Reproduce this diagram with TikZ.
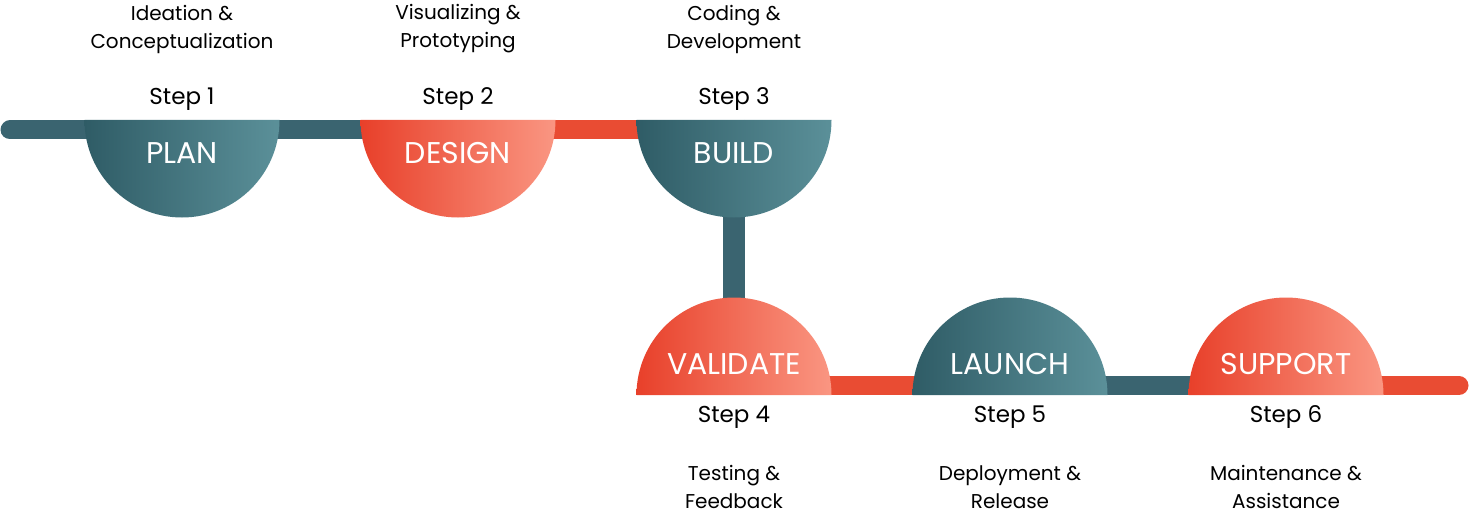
\documentclass[tikz,border=0pt]{standalone}
\usepackage{fontspec}
\setmainfont{Poppins}
\usetikzlibrary{positioning, calc}
\definecolor{tealdark}{HTML}{2F5C66}
\definecolor{teallight}{HTML}{5B9099}
\definecolor{tealbar}{HTML}{3A6470}
\definecolor{coraldark}{HTML}{E8402A}
\definecolor{corallight}{HTML}{FA9682}
\definecolor{coralbar}{HTML}{E94C33}
\tikzset{
  disklabel/.style={white, font=\fontsize{30}{30}\selectfont},
  steplabel/.style={black, font=\fontsize{23}{23}\selectfont},
  desclabel/.style={black, align=center, font=\fontsize{20}{28}\selectfont},
}
\begin{document}
\begin{tikzpicture}[x=1pt, y=-1pt]
  \useasboundingbox (0,0) rectangle (1469,516);

  % Disk centres (flat side of each half disk)
  \coordinate (plan) at (182,120);
  \coordinate (design) at (458,120);
  \coordinate (build) at (734,120);
  \coordinate (validate) at (734,395);
  \coordinate (launch) at (1010,395);
  \coordinate (support) at (1286,395);
  \coordinate (start) at (10,130);
  \coordinate (finish) at (1459,385.5);

  % Connecting bars
  \draw[tealbar, line width=19pt, line cap=round] (start) -- ($(plan)+(0,10)$);
  \draw[tealbar, line width=19pt] ($(plan)+(0,10)$) -- ($(design)+(0,10)$);
  \draw[coralbar, line width=19pt] ($(design)+(0,10)$) -- ($(build)+(0,10)$);
  \draw[tealbar, line width=22pt] (build) -- (validate);
  \draw[coralbar, line width=19pt] ($(validate)+(0,-9.5)$) -- ($(launch)+(0,-9.5)$);
  \draw[tealbar, line width=19pt] ($(launch)+(0,-9.5)$) -- ($(support)+(0,-9.5)$);
  \draw[coralbar, line width=19pt, line cap=round] ($(support)+(0,-9.5)$) -- (finish);

  % Top row: half disks hanging below the bar
  \foreach \c/\a/\b in {plan/tealdark/teallight, design/coraldark/corallight, build/tealdark/teallight} {
    \shade[left color=\a, right color=\b] ($(\c)+(-97.5,0)$) arc[start angle=180, end angle=0, radius=97.5] -- cycle;
  }
  % Bottom row: half disks standing on the bar
  \foreach \c/\a/\b in {validate/coraldark/corallight, launch/tealdark/teallight, support/coraldark/corallight} {
    \shade[left color=\a, right color=\b] ($(\c)+(-97.5,0)$) arc[start angle=180, end angle=360, radius=97.5] -- cycle;
  }

  % Disk labels
  \node[disklabel] (planlbl) at (182,153) {PLAN};
  \node[disklabel] (designlbl) at (458,153) {DESIGN};
  \node[disklabel] (buildlbl) at (734,153) {BUILD};
  \node[disklabel] (validatelbl) at (734,364) {VALIDATE};
  \node[disklabel] (launchlbl) at (1010,364) {LAUNCH};
  \node[disklabel] (supportlbl) at (1286,364) {SUPPORT};

  % Step numbers and descriptions
  \foreach \x/\n/\t in {182/1/{Ideation \&\\Conceptualization}, 458/2/{Visualizing \&\\Prototyping}, 734/3/{Coding \&\\Development}} {
    \node[steplabel] (step\n) at (\x,99) {Step \n};
    \node[desclabel] (desc\n) at (\x,29) {\t};
  }
  \foreach \x/\n/\t in {734/4/{Testing \&\\Feedback}, 1010/5/{Deployment \&\\Release}, 1286/6/{Maintenance \&\\Assistance}} {
    \node[steplabel] (step\n) at (\x,417) {Step \n};
    \node[desclabel] (desc\n) at (\x,487) {\t};
  }
\end{tikzpicture}
\end{document}
